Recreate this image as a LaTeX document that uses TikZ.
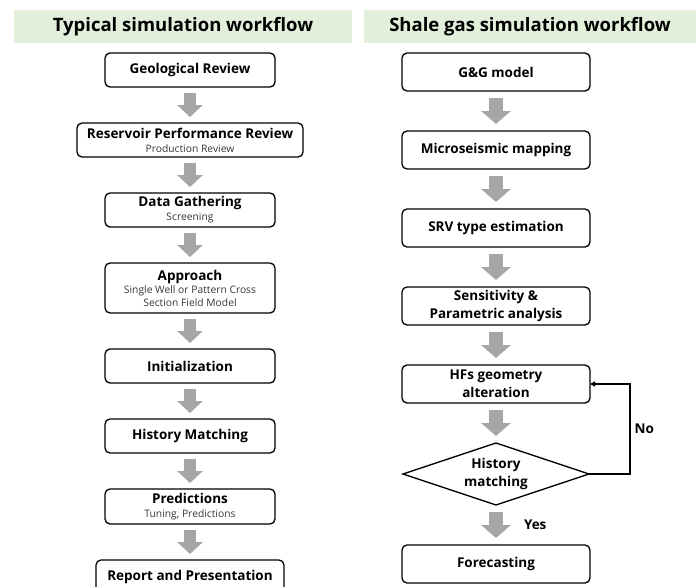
\documentclass[tikz,border=0pt]{standalone}
\usepackage{fontspec}
\setmainfont{Open Sans}
\usetikzlibrary{arrows.meta,positioning,shapes.geometric}
\definecolor{bannergreen}{RGB}{226,239,218}
\definecolor{arrowgray}{RGB}{166,166,166}
\definecolor{subgray}{RGB}{55,55,55}
\newcommand{\subtxt}[1]{{\fontsize{10.3}{12}\selectfont\mdseries\color{subgray}#1}}

\begin{document}
\begin{tikzpicture}[
    x=1pt, y=-1pt,
    font=\fontsize{13.5}{18}\selectfont\bfseries,
    >={Triangle[length=5pt,width=5pt]},
    banner/.style={fill=bannergreen, minimum height=33pt, inner sep=0pt,
                   font=\fontsize{18.5}{22}\selectfont\bfseries},
    flowbox/.style={draw, rounded corners=5pt, line width=1.3pt, align=center,
                    minimum width=170pt, minimum height=34pt, inner sep=0pt,
                    outer sep=0pt},
    rbox/.style={flowbox, minimum width=188pt, minimum height=38pt},
    decision/.style={draw, diamond, aspect=3, line width=1.3pt, align=center,
                     minimum width=186pt, minimum height=62pt, inner sep=0pt,
                     outer sep=0pt},
    blockarrow/.style={draw=arrowgray, line width=12pt,
                       -{Triangle[length=12pt,width=25pt]},
                       shorten <=6pt, shorten >=6pt},
    blockarrowR/.style={blockarrow, line width=14pt,
                        -{Triangle[length=13pt,width=29pt]},
                        shorten <=7pt, shorten >=7pt},
    lbl/.style={inner sep=0pt},
]
\useasboundingbox (0,0) rectangle (697,587);
\clip (0,0) rectangle (697,587);

% --- Titles ---
\node[banner, minimum width=338pt] (typtitle)   at (183,26.5) {Typical simulation workflow};
\node[banner, minimum width=332pt] (shaletitle) at (530,26.5) {Shale gas simulation workflow};

% --- Typical workflow (left) ---
\node[flowbox] (geo) at (190,70) {Geological Review};
\node[flowbox, below=36pt of geo, minimum width=226pt] (resv)
      {Reservoir Performance Review\\[-4pt]\subtxt{Production Review}};
\node[flowbox, below=36pt of resv] (data) {Data Gathering\\[-4pt]\subtxt{Screening}};
\node[flowbox, below=36pt of data, minimum height=50pt] (appr)
      {Approach\\[-5pt]\subtxt{Single Well or Pattern Cross}\\[-5pt]\subtxt{Section Field Model}};
\node[flowbox, below=36pt of appr]   (init)   {Initialization};
\node[flowbox, below=36pt of init]   (hmatch) {History Matching};
\node[flowbox, below=36pt of hmatch, minimum height=35pt] (pred)
      {Predictions\\[-4pt]\subtxt{Tuning, Predictions}};
\node[flowbox, below=36pt of pred, minimum width=188pt] (report) {Report and Presentation};

\draw[blockarrow] (geo)    -- (resv);
\draw[blockarrow] (resv)   -- (data);
\draw[blockarrow] (data)   -- (appr);
\draw[blockarrow] (appr)   -- (init);
\draw[blockarrow] (init)   -- (hmatch);
\draw[blockarrow] (hmatch) -- (pred);
\draw[blockarrow] (pred)   -- (report);

% --- Shale gas workflow (right) ---
\node[rbox] (gg) at (496,72) {G\&G model};
\node[rbox, below=40pt of gg]    (micro) {Microseismic mapping};
\node[rbox, below=40pt of micro] (srv)   {SRV type estimation};
\node[rbox, below=40pt of srv]   (sens)  {Sensitivity \&\\Parametric analysis};
\node[rbox, below=40pt of sens]  (hfs)   {HFs geometry\\alteration};
\node[decision, below=40pt of hfs] (hmdec) {History\\matching};
\node[rbox, below=40pt of hmdec] (fcast) {Forecasting};

\draw[blockarrowR] (gg)    -- (micro);
\draw[blockarrowR] (micro) -- (srv);
\draw[blockarrowR] (srv)   -- (sens);
\draw[blockarrowR] (sens)  -- (hfs);
\draw[blockarrowR] (hfs)   -- (hmdec);
\draw[blockarrowR] (hmdec) -- node[lbl, right=21pt] {Yes} (fcast);

% loop back when history matching fails
\draw[->, line width=1.3pt] (hmdec.east) -- ++(41pt,0)
      |- node[lbl, pos=0.25, right=4pt] {No} (hfs.east);

\end{tikzpicture}
\end{document}
